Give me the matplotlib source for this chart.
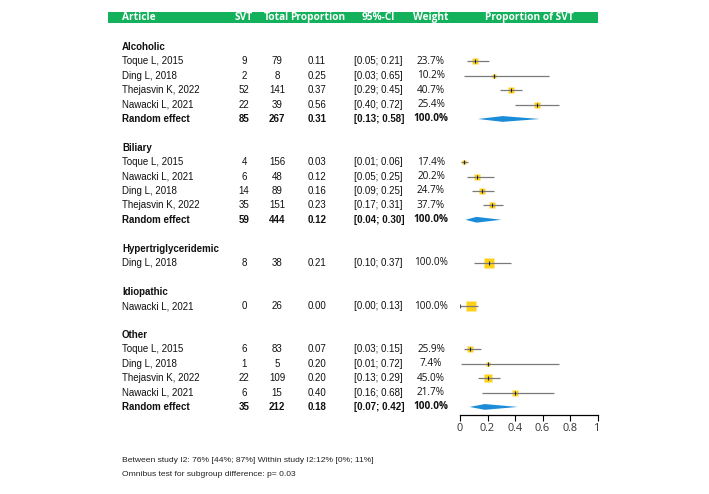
import numpy as np
import matplotlib.pyplot as plt
from matplotlib.patches import Polygon, Rectangle
from matplotlib.transforms import blended_transform_factory

# ---- data ----
groups = ["Alcoholic", "Biliary", "Hypertriglyceridemic", "Idiopathic", "Other"]

study_group = ["Alcoholic"] * 4 + ["Biliary"] * 4 + ["Hypertriglyceridemic"] + ["Idiopathic"] + ["Other"] * 4
study_name = ["Toque L, 2015", "Ding L, 2018", "Thejasvin K, 2022", "Nawacki L, 2021",
              "Toque L, 2015", "Nawacki L, 2021", "Ding L, 2018", "Thejasvin K, 2022",
              "Ding L, 2018",
              "Nawacki L, 2021",
              "Toque L, 2015", "Ding L, 2018", "Thejasvin K, 2022", "Nawacki L, 2021"]
svt = [9, 2, 52, 22, 4, 6, 14, 35, 8, 0, 6, 1, 22, 6]
total = [79, 8, 141, 39, 156, 48, 89, 151, 38, 26, 83, 5, 109, 15]
prop = [0.11, 0.25, 0.37, 0.56, 0.03, 0.12, 0.16, 0.23, 0.21, 0.00, 0.07, 0.20, 0.20, 0.40]
ci_lo = [0.05, 0.03, 0.29, 0.40, 0.01, 0.05, 0.09, 0.17, 0.10, 0.00, 0.03, 0.01, 0.13, 0.16]
ci_hi = [0.21, 0.65, 0.45, 0.72, 0.06, 0.25, 0.25, 0.31, 0.37, 0.13, 0.15, 0.72, 0.29, 0.68]
weight = [23.7, 10.2, 40.7, 25.4, 17.4, 20.2, 24.7, 37.7, 100.0, 100.0, 25.9, 7.4, 45.0, 21.7]
# square position as drawn (the zero-event study is plotted off zero)
marker_x = [0.11, 0.25, 0.37, 0.56, 0.03, 0.12, 0.16, 0.23, 0.21, 0.08, 0.07, 0.20, 0.20, 0.40]

re_group = ["Alcoholic", "Biliary", "Other"]
re_svt = [85, 59, 35]
re_total = [267, 444, 212]
re_prop = [0.31, 0.12, 0.18]
re_lo = [0.13, 0.04, 0.07]
re_hi = [0.58, 0.30, 0.42]

headers = ["Article", "SVT", "Total", "Proportion", "95%-Cl", "Weight", "Proportion of SVT"]
xticks = [0, 0.2, 0.4, 0.6, 0.8, 1]
xticklabels = ["0", "0.2", "0.4", "0.6", "0.8", "1"]
footnotes = ["Between study I2: 76% [44%; 87%] Within study I2:12% [0%; 11%]",
             "Omnibus test for subgroup difference: p= 0.03"]

# ---- layout ----
W, H = 709, 494
GREEN = "#13b15b"
GOLD = "#ffd21a"
BLUE = "#1a8cd8"
BODY = "Liberation Sans"
ALT = "Open Sans"

fig = plt.figure(figsize=(W / 100, H / 100), dpi=100)

def fx(px):
    return px / W

def fy(py):
    return 1 - py / H

# forest axes: 0..1 over x pixels 460..597.5, rows from y=30 to the axis at y=415
ax = fig.add_axes([fx(460), fy(415), fx(597.5) - fx(460), (415 - 30) / H])
ax.set_xlim(0, 1)
ax.set_ylim(25.56, -1.18)
for s in ["top", "right", "left"]:
    ax.spines[s].set_visible(False)
ax.spines["bottom"].set_linewidth(0.9)
ax.set_yticks([])
ax.set_xticks(xticks)
ax.set_xticklabels(xticklabels, fontfamily=ALT, fontsize=7.8, color="#333333")
ax.tick_params(axis="x", length=4, width=0.8, pad=1.5)

tr = blended_transform_factory(fig.transFigure, ax.transData)

col_svt, col_tot, col_prop, col_ci, col_w = 244, 277, 317, 354, 431

def row_text(y, name, a, b, p, lo, hi, w, bold=False):
    fw = "bold" if bold else "normal"
    kw = dict(transform=tr, va="center", fontsize=7, fontfamily=BODY, fontweight=fw, color="#111111")
    ax.text(fx(122), y, name, ha="left", **kw)
    ax.text(fx(col_svt), y, str(a), ha="center", **kw)
    ax.text(fx(col_tot), y, str(b), ha="center", **kw)
    ax.text(fx(col_prop), y, f"{p:.2f}", ha="center", **kw)
    ax.text(fx(col_ci), y, f"[{lo:.2f}; {hi:.2f}]", ha="left", **kw)
    kw["fontfamily"] = ALT
    kw["fontsize"] = 7.2
    ax.text(fx(col_w), y, f"{w:.1f}%", ha="center", **kw)

row = 0
for g in groups:
    ax.text(fx(122), row, g, transform=tr, ha="left", va="center", fontsize=7,
            fontfamily=BODY, fontweight="bold", color="#111111")
    row += 1
    idx = [i for i, sg in enumerate(study_group) if sg == g]
    for i in idx:
        row_text(row, study_name[i], svt[i], total[i], prop[i], ci_lo[i], ci_hi[i], weight[i])
        # square side grows with sqrt(weight)
        side = (9.5 * np.sqrt(weight[i] / 100) + 0.9) * 0.72
        ax.plot(marker_x[i], row, marker="s", markersize=side, color=GOLD, mec="none", zorder=2)
        ax.plot([ci_lo[i], ci_hi[i]], [row, row], color="#7a7a7a", lw=0.9, zorder=3,
                solid_capstyle="butt")
        if prop[i] > 0:
            ax.plot(prop[i], row, marker="|", markersize=3.2, mew=0.8, color="#222222", zorder=4)
        else:
            ax.plot(ci_lo[i], row, marker="|", markersize=3.5, mew=0.8, color="#555555", zorder=4)
        row += 1
    if g in re_group:
        k = re_group.index(g)
        row_text(row, "Random effect", re_svt[k], re_total[k], re_prop[k], re_lo[k], re_hi[k],
                 100.0, bold=True)
        dia = Polygon([(re_lo[k], row), (re_prop[k], row - 0.2), (re_hi[k], row),
                       (re_prop[k], row + 0.2)], closed=True, fc=BLUE, ec="none", zorder=2)
        ax.add_patch(dia)
        row += 1
    row += 1

# header bar
fig.patches.append(Rectangle((fx(108), fy(23.5)), fx(598) - fx(108), (23.5 - 11.7) / H,
                             transform=fig.transFigure, fc=GREEN, ec="none", zorder=0))
hx = [122, 244, 276, 318, 378, 431, 529.5]
for x, h in zip(hx, headers):
    fig.text(fx(x), fy(17.8), h, ha="left" if h == "Article" else "center", va="center",
             fontsize=7.3, fontfamily=ALT, fontweight="bold", color="white")

# footnotes
fig.text(fx(122), fy(460), footnotes[0], ha="left", va="center", fontsize=6.1,
         fontfamily=BODY, color="#222222")
fig.text(fx(122), fy(474), footnotes[1], ha="left", va="center", fontsize=6.1,
         fontfamily=BODY, color="#222222")

fig.savefig("out.png", dpi=100)
